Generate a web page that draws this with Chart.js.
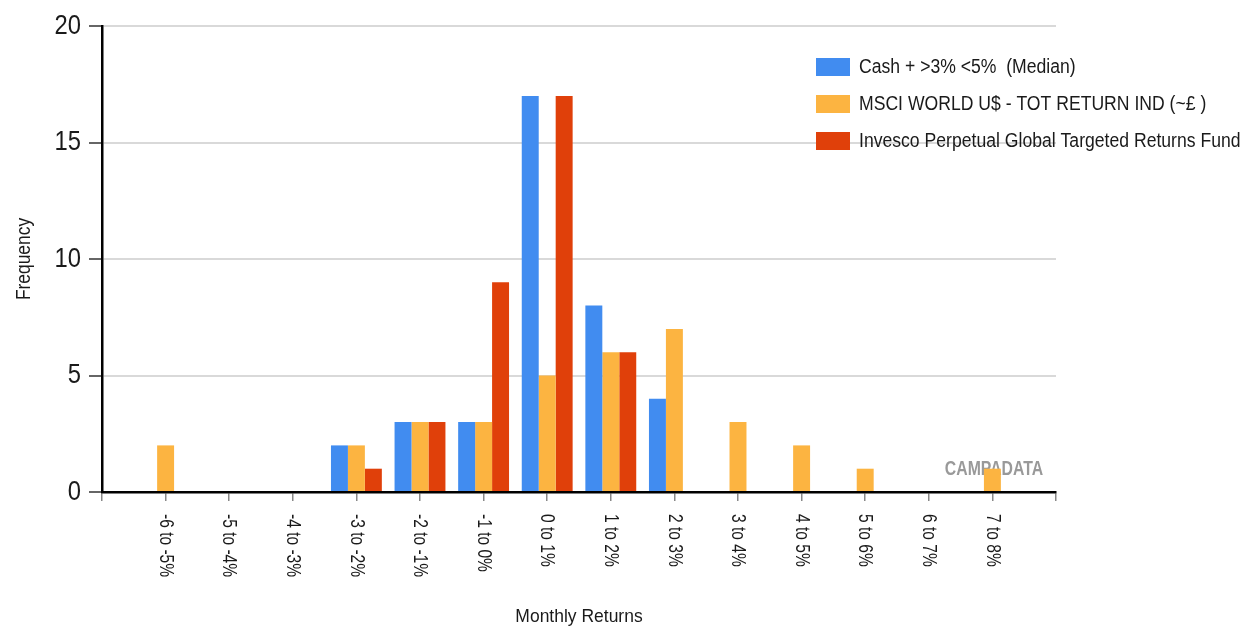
<!DOCTYPE html>
<html>
<head>
<meta charset="utf-8">
<script src="https://cdn.jsdelivr.net/npm/chart.js@4.4.1/dist/chart.umd.min.js"></script>
<style>
html,body{margin:0;padding:0;background:#fff;}
#wrap{position:relative;width:1245px;height:630px;}
</style>
</head>
<body>
<div id="wrap"><canvas id="c" width="1245" height="630"></canvas></div>
<script>
const categories = ['-6 to -5%','-5 to -4%','-4 to -3%','-3 to -2%','-2 to -1%','-1 to 0%','0 to 1%','1 to 2%','2 to 3%','3 to 4%','4 to 5%','5 to 6%','6 to 7%','7 to 8%'];
const cashValues = [0,0,0,2,3,3,17,8,4,0,0,0,0,0];
const msciValues = [2,0,0,2,3,3,5,6,7,3,2,1,0,1];
const invescoValues = [0,0,0,1,3,9,17,6,0,0,0,0,0,0];
const seriesNames = ['Cash + >3% <5%  (Median)','MSCI WORLD U$ - TOT RETURN IND (~£ )','Invesco Perpetual Global Targeted Returns Fund'];
const seriesColors = ['#418CF0','#FCB441','#E0400A'];
const yTicks = [0,5,10,15,20];
const xTitle = 'Monthly Returns';
const yTitle = 'Frequency';
const watermark = 'CAMPADATA';

const FONT = "'Liberation Sans', Arial, sans-serif";
const TEXT = '#1a1a1a';

// padded with empty slots at both ends so categories sit on interior ticks
const labels = [''].concat(categories, ['']);
const pad = arr => [null].concat(arr, [null]);

function drawText(ctx, text, x, y, opts) {
  ctx.save();
  ctx.font = (opts.weight || 'normal') + ' ' + opts.size + 'px ' + FONT;
  ctx.fillStyle = opts.color || TEXT;
  ctx.textAlign = opts.align || 'left';
  ctx.textBaseline = 'middle';
  ctx.translate(x, y);
  if (opts.rot) ctx.rotate(opts.rot);
  ctx.scale(opts.sx || 1, 1);
  ctx.fillText(text, 0, 0);
  ctx.restore();
}

const customDraw = {
  id: 'customDraw',
  beforeDatasetsDraw(chart) {
    drawText(chart.ctx, watermark, 994, 469, { size: 20, weight: 'bold', color: '#999999', align: 'center', sx: 0.79 });
  },
  afterDraw(chart) {
    const ctx = chart.ctx;
    const xs = chart.scales.x;
    const ys = chart.scales.y;
    // rotated x tick labels (clockwise)
    for (let i = 1; i < labels.length - 1; i++) {
      drawText(ctx, labels[i], xs.getPixelForTick(i), ys.bottom + 22, { size: 21, sx: 0.74, rot: Math.PI / 2 });
    }
    // y tick labels
    ys.ticks.forEach(t => {
      drawText(ctx, String(t.value), 81, ys.getPixelForValue(t.value), { size: 28, sx: 0.85, align: 'right' });
    });
    // axis titles
    drawText(ctx, xTitle, (xs.left + xs.right) / 2, 617, { size: 19, sx: 0.92, align: 'center' });
    drawText(ctx, yTitle, 24, (ys.top + ys.bottom) / 2, { size: 20, sx: 0.87, align: 'center', rot: -Math.PI / 2 });
    // legend
    chart.data.datasets.forEach((ds, i) => {
      const y = 67 + i * 37;
      ctx.fillStyle = ds.backgroundColor;
      ctx.fillRect(816, y - 9, 34, 18);
      drawText(ctx, ds.label, 859, y, { size: 20, sx: 0.88 });
    });
  }
};

new Chart(document.getElementById('c'), {
  type: 'bar',
  data: {
    labels: labels,
    datasets: [
      { label: seriesNames[0], data: pad(cashValues), backgroundColor: seriesColors[0] },
      { label: seriesNames[1], data: pad(msciValues), backgroundColor: seriesColors[1] },
      { label: seriesNames[2], data: pad(invescoValues), backgroundColor: seriesColors[2] }
    ]
  },
  options: {
    responsive: false,
    animation: false,
    devicePixelRatio: 1,
    layout: { padding: { top: 26, right: 189, left: 0, bottom: 0 } },
    datasets: { bar: { categoryPercentage: 0.8, barPercentage: 1.0, grouped: true } },
    plugins: { legend: { display: false }, tooltip: { enabled: false } },
    scales: {
      x: {
        offset: false,
        grid: { display: true, offset: false, drawOnChartArea: false, drawTicks: true, tickLength: 9, tickColor: '#888', lineWidth: 1.5 },
        border: { display: true, color: '#000', width: 2.5 },
        ticks: { display: false },
        afterFit(s) { s.height = 138; }
      },
      y: {
        min: 0, max: 20,
        afterBuildTicks(s) { s.ticks = yTicks.map(v => ({ value: v })); },
        grid: { color: ctx => ctx.tick && ctx.tick.value === 0 ? 'rgba(0,0,0,0)' : '#d9d9d9', lineWidth: 2, tickLength: 13, tickColor: '#666' },
        border: { display: true, color: '#000', width: 2.5 },
        ticks: { display: false },
        afterFit(s) { s.width = 102; }
      }
    }
  },
  plugins: [customDraw]
});
</script>
</body>
</html>
